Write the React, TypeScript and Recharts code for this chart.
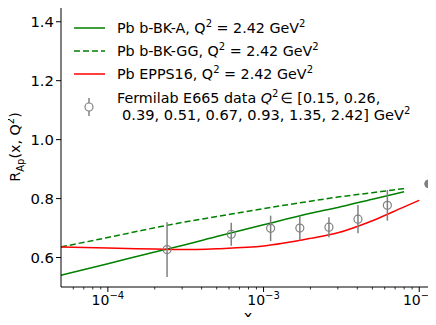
import React from 'react'
import {
  ComposedChart,
  Line,
  Scatter,
  ErrorBar,
  XAxis,
  YAxis,
  ReferenceLine,
} from 'recharts'

// model curves, Q^2 = 2.42 GeV^2
const curveX = [5e-5, 1e-4, 2e-4, 3e-4, 5e-4, 1e-3, 2e-3, 3e-3, 5e-3, 8e-3]
const bkA = [0.54, 0.579, 0.619, 0.641, 0.671, 0.711, 0.75, 0.77, 0.798, 0.823]
const bkGG = [0.636, 0.668, 0.701, 0.719, 0.739, 0.766, 0.791, 0.805, 0.82, 0.834]
const eppsX = [5e-5, 1e-4, 2e-4, 3e-4, 5e-4, 1e-3, 2e-3, 3e-3, 5e-3, 8e-3, 1e-2]
const epps16 = [0.636, 0.632, 0.629, 0.627, 0.63, 0.639, 0.665, 0.684, 0.725, 0.772, 0.794]

// Fermilab E665 points
const e665X = [2.4e-4, 6.2e-4, 1.11e-3, 1.71e-3, 2.63e-3, 4.04e-3, 6.24e-3]
const e665R = [0.627, 0.679, 0.699, 0.7, 0.703, 0.73, 0.777]
const e665Err = [0.093, 0.039, 0.043, 0.042, 0.034, 0.048, 0.052]
const e665HighX = [1.15e-2]
const e665HighR = [0.85]
const e665HighErr = [0.037]

const xDecades = [1e-4, 1e-3, 1e-2]
const xDecadeLabels = ['\u22124', '\u22123', '\u22122']
const yTicks = [0.6, 0.8, 1.0, 1.2, 1.4]

const xDomain = [5e-5, 1.4e-2]
const FONT = 'DejaVu Sans'
const GREEN = '#008000'
const RED = '#ff0000'
const GRAY = '#808080'

const xTicks = xDecades
  .flatMap((d) => [1, 2, 3, 4, 5, 6, 7, 8, 9].map((m) => d * m))
  .concat([6e-5, 7e-5, 8e-5, 9e-5])
  .filter((v) => v >= xDomain[0] && v <= xDomain[1])
  .sort((a, b) => a - b)

const toPoints = (xs: number[], ys: number[]) => xs.map((x, i) => ({ x, y: ys[i] }))
const toErrPoints = (xs: number[], ys: number[], es: number[]) =>
  xs.map((x, i) => ({ x, y: ys[i], err: es[i] }))

const XTick = (props: any) => {
  const { x, y, payload } = props
  const idx = xDecades.findIndex((d) => Math.abs(d - payload.value) / d < 1e-6)
  const major = idx >= 0
  return (
    <g>
      <line x1={x} y1={y} x2={x} y2={y + (major ? 5 : 2.5)} stroke="#000" strokeWidth={major ? 1 : 0.8} />
      {major && (
        <text x={x} y={y + 18} textAnchor="middle" fontFamily={FONT} fontSize={14} fill="#000">
          10
          <tspan dy={-6} fontSize={10}>
            {xDecadeLabels[idx]}
          </tspan>
        </text>
      )}
    </g>
  )
}

const YTick = (props: any) => {
  const { x, y, payload } = props
  return (
    <g>
      <line x1={x - 5} y1={y} x2={x} y2={y} stroke="#000" strokeWidth={1} />
      <text x={x - 7} y={y + 5} textAnchor="end" fontFamily={FONT} fontSize={14.8} fill="#000">
        {payload.value.toFixed(1)}
      </text>
    </g>
  )
}

const OpenCircle = (props: any) => (
  <circle cx={props.cx} cy={props.cy} r={4} fill="none" stroke={GRAY} strokeWidth={1.2} />
)
const FilledCircle = (props: any) => <circle cx={props.cx} cy={props.cy} r={4} fill={GRAY} stroke={GRAY} />

const Sup = ({ children }: { children: React.ReactNode }) => (
  <tspan dy={-6} fontSize={10}>
    {children}
  </tspan>
)

function LegendOverlay() {
  const rows = [
    { y: 28, color: GREEN, dash: undefined, label: 'Pb b-BK-A, Q' },
    { y: 51, color: GREEN, dash: '6 3', label: 'Pb b-BK-GG, Q' },
    { y: 74, color: RED, dash: undefined, label: 'Pb EPPS16, Q' },
  ]
  return (
    <svg width={436} height={325} style={{ position: 'absolute', left: 0, top: 0 }}>
      <g fontFamily={FONT} fontSize={14.3} fill="#000">
        {rows.map((r) => (
          <g key={r.label}>
            <line x1={74} x2={105} y1={r.y} y2={r.y} stroke={r.color} strokeWidth={1.5} strokeDasharray={r.dash} />
            <text x={117} y={r.y + 5}>
              {r.label}
              <Sup>2</Sup>
              <tspan dy={6}> = 2.42 GeV</tspan>
              <Sup>2</Sup>
            </text>
          </g>
        ))}
        <line x1={89} x2={89} y1={98} y2={116} stroke={GRAY} strokeWidth={1.5} />
        <circle cx={89} cy={107} r={4} fill="#fff" stroke={GRAY} strokeWidth={1.2} />
        <text x={117} y={103}>
          Fermilab E665 data <tspan fontStyle="italic">Q</tspan>
          <Sup>2</Sup>
          <tspan dy={6} dx={2}>{'\u2208 [0.15, 0.26,'}</tspan>
        </text>
        <text x={122} y={120} fontSize={14.6}>
          0.39, 0.51, 0.67, 0.93, 1.35, 2.42] GeV
          <Sup>2</Sup>
        </text>
        <text x={248} y={321} textAnchor="middle">
          x
        </text>
        <text x={20} y={147} textAnchor="middle" transform="rotate(-90, 20, 147)">
          R
          <tspan dy={4} fontSize={10}>
            Ap
          </tspan>
          <tspan dy={-4}>(x, Q</tspan>
          <Sup>2</Sup>
          <tspan dy={6}>)</tspan>
        </text>
      </g>
    </svg>
  )
}

export default function App() {
  return (
    <div style={{ margin: -8, width: 436, height: 325, overflow: 'hidden', position: 'relative', background: '#fff' }}>
      <ComposedChart width={460} height={325} margin={{ top: 7, right: 18, bottom: 0, left: 0 }}>
        <XAxis
          dataKey="x"
          type="number"
          scale="log"
          domain={xDomain}
          allowDataOverflow
          ticks={xTicks}
          interval={0}
          height={38}
          tickSize={0}
          tickMargin={0}
          tick={<XTick />}
          axisLine={{ stroke: '#000', strokeWidth: 1 }}
        />
        <YAxis
          type="number"
          domain={[0.5, 1.45]}
          allowDataOverflow
          ticks={yTicks}
          width={61}
          tickSize={0}
          tickMargin={0}
          tick={<YTick />}
          axisLine={{ stroke: '#000', strokeWidth: 1 }}
        />
        <ReferenceLine y={1.45} stroke="#000" strokeWidth={1} />
        <Line
          data={toPoints(curveX, bkA)}
          dataKey="y"
          type="monotone"
          stroke={GREEN}
          strokeWidth={1.5}
          dot={false}
          isAnimationActive={false}
        />
        <Line
          data={toPoints(curveX, bkGG)}
          dataKey="y"
          type="monotone"
          stroke={GREEN}
          strokeWidth={1.5}
          strokeDasharray="6 3"
          dot={false}
          isAnimationActive={false}
        />
        <Line
          data={toPoints(eppsX, epps16)}
          dataKey="y"
          type="monotone"
          stroke={RED}
          strokeWidth={1.5}
          dot={false}
          isAnimationActive={false}
        />
        <Scatter data={toErrPoints(e665X, e665R, e665Err)} dataKey="y" shape={<OpenCircle />} isAnimationActive={false}>
          <ErrorBar dataKey="err" direction="y" width={0} stroke={GRAY} strokeWidth={1.5} />
        </Scatter>
        <Scatter
          data={toErrPoints(e665HighX, e665HighR, e665HighErr)}
          dataKey="y"
          shape={<FilledCircle />}
          isAnimationActive={false}
        >
          <ErrorBar dataKey="err" direction="y" width={0} stroke={GRAY} strokeWidth={1.5} />
        </Scatter>
      </ComposedChart>
      <LegendOverlay />
    </div>
  )
}
